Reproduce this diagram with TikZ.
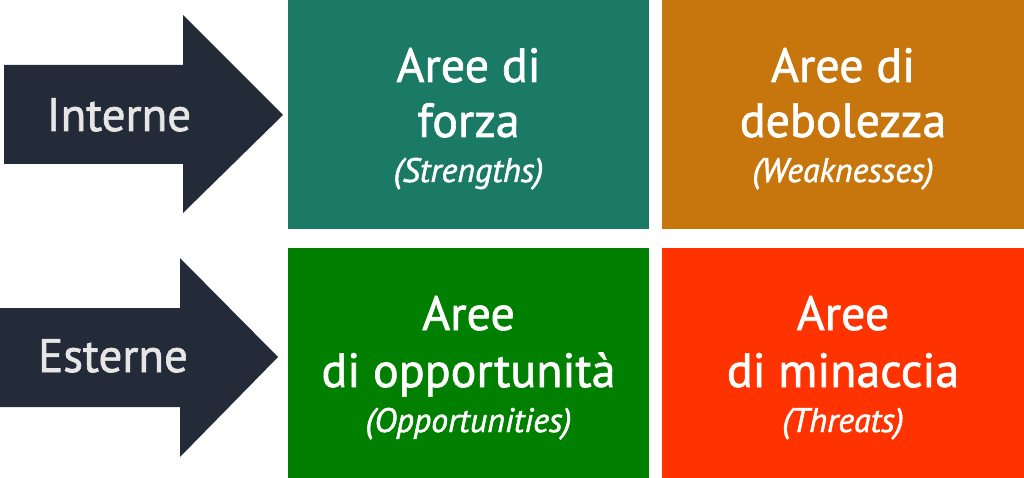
\documentclass[tikz,border=0pt]{standalone}
\usepackage{fontspec}
\setmainfont{PT Sans}[FakeBold=1.4]
\definecolor{arrowc}{HTML}{232B38}
\definecolor{arrowtxt}{HTML}{E6E6E6}
\definecolor{sC}{HTML}{1A7A66}
\definecolor{wC}{HTML}{C7760E}
\definecolor{oC}{HTML}{007F00}
\definecolor{tC}{HTML}{FF3300}
\tikzset{
  bigtxt/.style={anchor=base, inner sep=0pt, text=white, font=\fontsize{48}{55}\selectfont},
  smalltxt/.style={anchor=base, inner sep=0pt, text=white, font=\fontsize{34}{40}\selectfont\itshape},
  arrtxt/.style={anchor=base, inner sep=0pt, text=arrowtxt, font=\fontsize{47}{55}\selectfont},
  quad/.style={fill=#1, draw=none}
}
\begin{document}
\begin{tikzpicture}[x=1pt,y=-1pt]
\useasboundingbox (0,0) rectangle (1024,478);
% arrows
\fill[arrowc] (4,65) -- (183,65) -- (183,15) -- (283,115) -- (183,213) -- (183,164) -- (4,164) -- cycle;
\fill[arrowc] (0,308) -- (180,308) -- (180,258) -- (278,357) -- (180,457) -- (180,407) -- (0,407) -- cycle;
\node[arrtxt] (int) at (119,131) {Interne};
\node[arrtxt] (est) at (113,372) {Esterne};
% boxes
\fill[quad=sC] (288,0) rectangle (649,229);
\fill[quad=wC] (662,0) rectangle (1024,229);
\fill[quad=oC] (288,248) rectangle (649,478);
\fill[quad=tC] (662,248) rectangle (1024,478);
% texts
\node[bigtxt] (s1) at (468.5,82) {Aree di};
\node[bigtxt] (s2) at (468.5,137) {forza};
\node[smalltxt] (s3) at (468.5,182) {(Strengths)};
\node[bigtxt] (w1) at (843,82) {Aree di};
\node[bigtxt] (w2) at (843,137) {debolezza};
\node[smalltxt] (w3) at (843,182) {(Weaknesses)};
\node[bigtxt] (o1) at (468.5,330) {Aree};
\node[bigtxt] (o2) at (468.5,387) {di opportunità};
\node[smalltxt] (o3) at (468.5,432) {(Opportunities)};
\node[bigtxt] (t1) at (843,330) {Aree};
\node[bigtxt] (t2) at (843,387) {di minaccia};
\node[smalltxt] (t3) at (843,432) {(Threats)};
\end{tikzpicture}
\end{document}
